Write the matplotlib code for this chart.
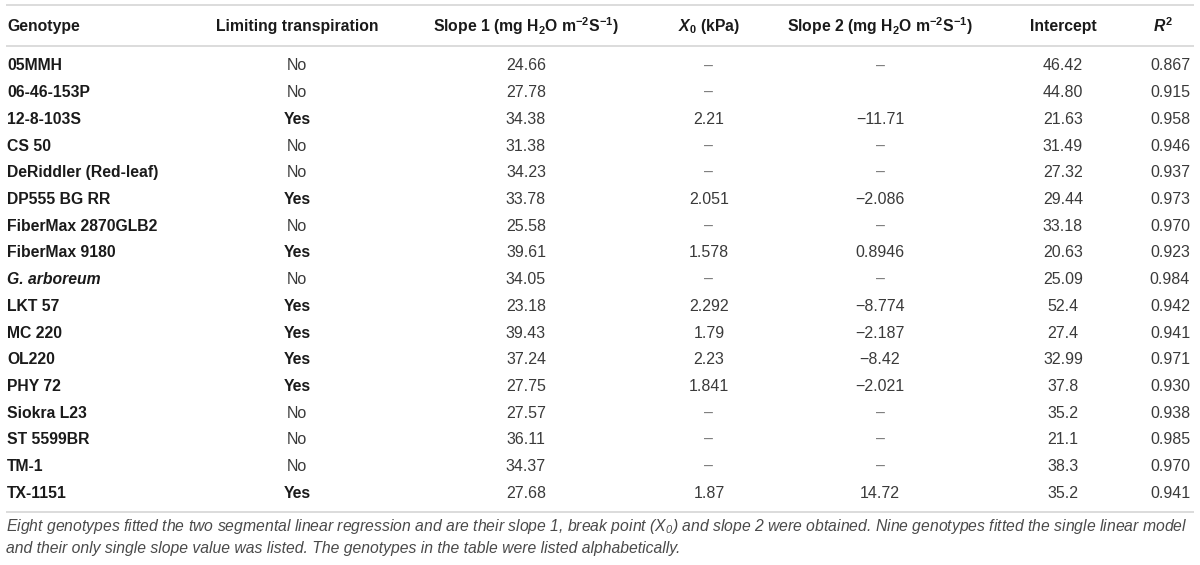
import matplotlib
matplotlib.use("Agg")
import matplotlib.pyplot as plt

plt.rcParams['font.family'] = ['Liberation Sans', 'DejaVu Sans']
plt.rcParams['mathtext.fontset'] = 'custom'
plt.rcParams['mathtext.rm'] = 'Liberation Sans:bold'
plt.rcParams['mathtext.bf'] = 'Liberation Sans:bold'
plt.rcParams['mathtext.it'] = 'Liberation Sans:italic:bold'
plt.rcParams['mathtext.sf'] = 'Liberation Sans:italic'

headers = ["Genotype", "Limiting transpiration",
           r"Slope 1 (mg H$_2$O m$^{-2}$S$^{-1}$)", r"$X_0$ (kPa)",
           r"Slope 2 (mg H$_2$O m$^{-2}$S$^{-1}$)", "Intercept", r"$R^2$"]

genotypes = ["05MMH", "06-46-153P", "12-8-103S", "CS 50", "DeRiddler (Red-leaf)",
             "DP555 BG RR", "FiberMax 2870GLB2", "FiberMax 9180", "G. arboreum",
             "LKT 57", "MC 220", "OL220", "PHY 72", "Siokra L23", "ST 5599BR",
             "TM-1", "TX-1151"]
limiting = ["No", "No", "Yes", "No", "No", "Yes", "No", "Yes", "No",
            "Yes", "Yes", "Yes", "Yes", "No", "No", "No", "Yes"]
slope1 = ["24.66", "27.78", "34.38", "31.38", "34.23", "33.78", "25.58", "39.61", "34.05",
          "23.18", "39.43", "37.24", "27.75", "27.57", "36.11", "34.37", "27.68"]
x0 = ["–", "–", "2.21", "–", "–", "2.051", "–", "1.578", "–",
      "2.292", "1.79", "2.23", "1.841", "–", "–", "–", "1.87"]
slope2 = ["–", "", "−11.71", "–", "–", "−2.086", "–", "0.8946", "–",
          "−8.774", "−2.187", "−8.42", "−2.021", "–", "–", "–", "14.72"]
intercept = ["46.42", "44.80", "21.63", "31.49", "27.32", "29.44", "33.18", "20.63", "25.09",
             "52.4", "27.4", "32.99", "37.8", "35.2", "21.1", "38.3", "35.2"]
r2 = ["0.867", "0.915", "0.958", "0.946", "0.937", "0.973", "0.970", "0.923", "0.984",
      "0.942", "0.941", "0.971", "0.930", "0.938", "0.985", "0.970", "0.941"]

caption = ["Eight genotypes fitted the two segmental linear regression and are their slope 1, "
           r"break point ($\mathsf{X_0}$) and slope 2 were obtained. Nine genotypes fitted the single linear model",
           "and their only single slope value was listed. The genotypes in the table were listed alphabetically."]

W, H = 1200, 565
fig = plt.figure(figsize=(W / 100, H / 100), dpi=100)
ax = fig.add_axes([0, 0, 1, 1])
ax.set_xlim(0, W)
ax.set_ylim(H, 0)
ax.axis('off')

line_c = '#d9d9d9'
for y in (5, 46, 512):
    ax.plot([6, 1194], [y, y], color=line_c, lw=1.3, solid_capstyle='butt')

col_x = [7, 297, 526, 709, 880, 1063, 1170]
col_ha = ['left', 'center', 'center', 'center', 'center', 'center', 'center']
hdr_x = [7, 297, 526, 709, 880, 1063, 1163]
hfs = 11.3
fs = 11.5
for i, h in enumerate(headers):
    ax.text(hdr_x[i], 26, h, ha=col_ha[i], va='center', fontsize=hfs,
            fontweight='bold', color='#1a1a1a')

row0, dy = 66, 26.7
val_c = '#3a3a3a'
dash_c = '#7a7a7a'
for r in range(len(genotypes)):
    y = row0 + r * dy
    g = genotypes[r]
    ax.text(col_x[0], y, g, ha='left', va='center', fontsize=hfs,
            fontweight='bold', fontstyle='italic' if g.startswith("G. ") else 'normal',
            color='#1a1a1a')
    lim = limiting[r]
    ax.text(col_x[1], y, lim, ha='center', va='center',
            fontsize=hfs if lim == "Yes" else fs,
            fontweight='bold' if lim == "Yes" else 'normal',
            color='#1a1a1a' if lim == "Yes" else val_c)
    for ci, col in zip(range(2, 7), (slope1, x0, slope2, intercept, r2)):
        v = col[r]
        ax.text(col_x[ci], y, v, ha='center', va='center', fontsize=fs,
                color=dash_c if v == "–" else val_c)

for k, line in enumerate(caption):
    ax.text(6, 527 + k * 21, line, ha='left', va='center', fontsize=11.3,
            fontstyle='italic', color='#4a4a4a')

fig.savefig("out.png", dpi=100)
